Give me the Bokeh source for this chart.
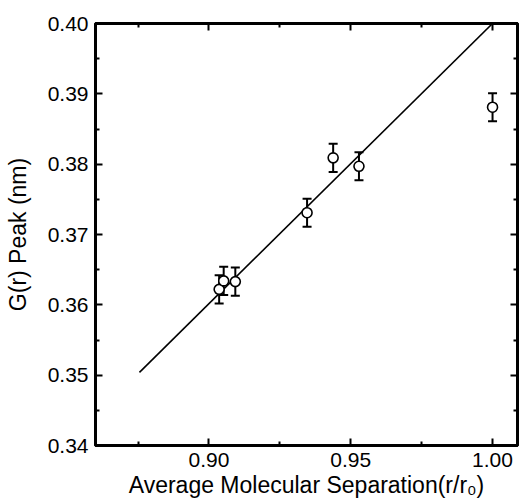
from bokeh.plotting import figure
from bokeh.models import FixedTicker, LinearAxis, Range1d, Whisker, ColumnDataSource, NumeralTickFormatter, TeeHead
from bokeh.embed import file_html
from bokeh.resources import INLINE

# data
sep = [0.9036, 0.9052, 0.9093, 0.9346, 0.9438, 0.9529, 1.000]
peak = [0.3622, 0.3634, 0.3633, 0.3731, 0.3809, 0.3797, 0.3881]
err = [0.0020, 0.0020, 0.0020, 0.0020, 0.0020, 0.0020, 0.0020]
fit_x = [0.8755, 1.000]
fit_y = [0.3504, 0.4000]

x_major = [0.90, 0.95, 1.00]
x_minor = [0.875, 0.925, 0.975]
y_major = [0.34, 0.35, 0.36, 0.37, 0.38, 0.39, 0.40]
y_minor = [0.345, 0.355, 0.365, 0.375, 0.385, 0.395]

FONT = "Liberation Sans"

p = figure(width=520, height=504, output_backend="svg", toolbar_location=None,
           x_range=Range1d(0.860, 1.0088), y_range=Range1d(0.34, 0.40),
           min_border_left=95, min_border_top=23, min_border_right=3, min_border_bottom=59)
p.frame_width = 422
p.frame_height = 422
p.grid.visible = False
p.outline_line_color = "black"
p.outline_line_width = 3
p.background_fill_color = "white"
p.border_fill_color = "white"

src = ColumnDataSource(dict(x=sep, y=peak, lo=[a - b for a, b in zip(peak, err)],
                            hi=[a + b for a, b in zip(peak, err)]))

p.line(fit_x, fit_y, line_color="black", line_width=1.6)
w = Whisker(source=src, base="x", lower="lo", upper="hi", line_color="black", line_width=2,
            upper_head=TeeHead(size=9, line_width=2, line_color="black"),
            lower_head=TeeHead(size=9, line_width=2, line_color="black"))
p.add_layout(w)
p.scatter("x", "y", source=src, size=10, marker="circle", fill_color="white",
          line_color="black", line_width=1.6)

def style(ax, labels=True):
    ax.axis_line_color = "black"
    ax.axis_line_width = 3
    ax.major_tick_in = 7
    ax.major_tick_out = 0
    ax.minor_tick_in = 4
    ax.minor_tick_out = 0
    ax.major_tick_line_width = 2
    ax.minor_tick_line_width = 2
    ax.major_tick_line_color = "black"
    ax.minor_tick_line_color = "black"
    ax.major_label_text_font = FONT
    ax.major_label_text_font_size = "21px"
    ax.major_label_text_color = "black"
    ax.axis_label_text_font = FONT
    ax.axis_label_text_font_size = "23px"
    ax.axis_label_text_font_style = "normal"
    ax.axis_label_text_color = "black"
    if not labels:
        ax.major_label_text_font_size = "0px"
        ax.major_label_text_color = None

p.xaxis.ticker = FixedTicker(ticks=x_major, minor_ticks=x_minor)
p.yaxis.ticker = FixedTicker(ticks=y_major, minor_ticks=y_minor)
p.xaxis.formatter = NumeralTickFormatter(format="0.00")
p.yaxis.formatter = NumeralTickFormatter(format="0.00")
p.xaxis.axis_label = "Average Molecular Separation(r/r\u2080)"
p.yaxis.axis_label = "G(r) Peak (nm)"
style(p.xaxis[0])
style(p.yaxis[0])
p.xaxis.major_label_standoff = 7
p.yaxis.major_label_standoff = 7
p.xaxis.axis_label_standoff = 2
p.yaxis.axis_label_standoff = 14

top = LinearAxis(ticker=FixedTicker(ticks=x_major, minor_ticks=x_minor))
right = LinearAxis(ticker=FixedTicker(ticks=y_major, minor_ticks=y_minor))
style(top, False)
style(right, False)
p.add_layout(top, "above")
p.add_layout(right, "right")

open("out.html", "w").write(file_html(p, INLINE))
